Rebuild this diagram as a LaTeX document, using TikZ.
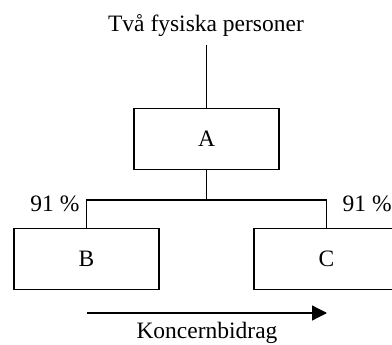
\documentclass[tikz,border=0pt]{standalone}
\usepackage{fontspec}
\setmainfont{Liberation Serif}
\usetikzlibrary{positioning}
\usetikzlibrary{arrows.meta}

\begin{document}
\begin{tikzpicture}[x=1pt,y=-1pt,line width=1.3pt,
    box/.style={draw,rectangle,minimum width=145pt,minimum height=61pt,inner sep=0pt,font=\fontsize{23.5}{27}\selectfont},
    lbl/.style={anchor=base,inner sep=0pt,font=\fontsize{23.5}{27}\selectfont}]

        \useasboundingbox (0,0) rectangle (392,345);
        \clip (0,0) rectangle (392,345);

        \node[lbl] (owners) at (206,32) {Två fysiska personer};
        \coordinate (top) at (206.5,45);

        \node[box] (A) at (206.5,139) {A};
        \node[box] (B) at (86.5,259) {B};
        \node[box] (C) at (326.5,259) {C};

        \node[lbl,anchor=base east] (pB) at (80,212) {91 \%};
        \node[lbl,anchor=base west] (pC) at (342,212) {91 \%};

        \draw (top) -- (A.north);
        \draw (A.south) -- ++(0,30) coordinate (split) -| (B.north);
        \draw (split) -| (C.north);

        \coordinate (f1) at (87,313);
        \coordinate (f2) at (327,313);
        \draw[-{Triangle[length=15pt,width=15pt]}] (f1) -- (f2);
        \node[lbl] (flow) at (207,339) {Koncernbidrag};

\end{tikzpicture}
\end{document}
